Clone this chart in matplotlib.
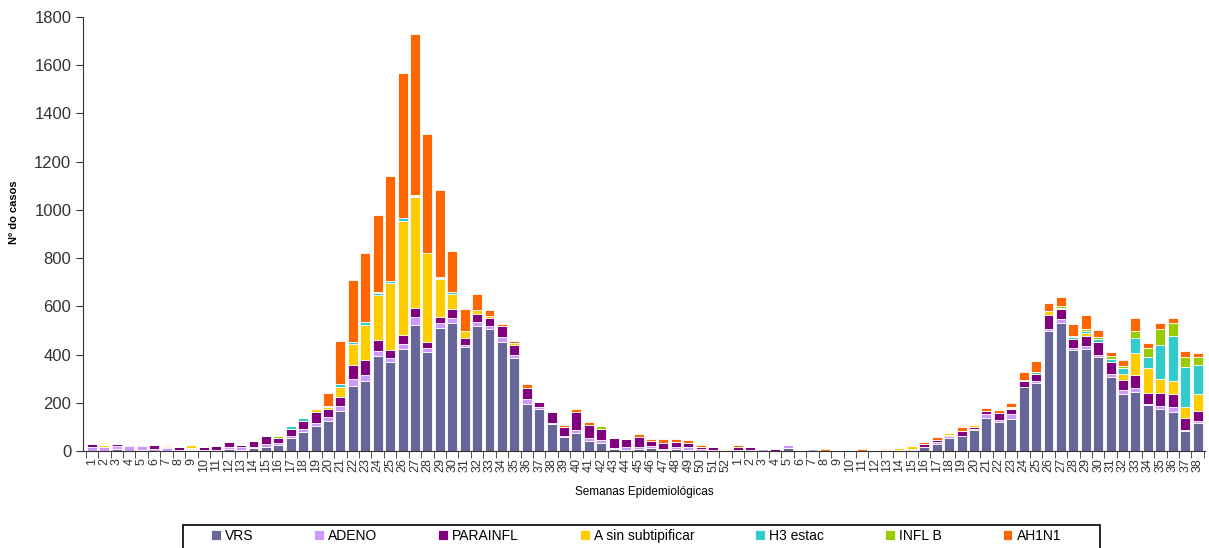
import matplotlib.pyplot as plt
import numpy as np
from matplotlib.patches import Rectangle

plt.rcParams['font.family'] = ['Liberation Sans', 'DejaVu Sans']

# semanas: 1-52 do primeiro ano e 1-38 do segundo
semanas = [str(i) for i in range(1, 53)] + [str(i) for i in range(1, 39)]

vrs = [0, 0, 7, 2, 4, 2, 0, 3, 3, 3, 4, 10, 6, 14, 18, 24, 53, 80, 104, 126,
       166, 270, 289, 394, 369, 423, 521, 412, 509, 532, 430, 518, 505, 453, 384, 195, 173, 111, 59, 73,
       43, 34, 8, 4, 8, 14, 4, 8, 4, 2, 2, 0,
       0, 0, 0, 0, 14, 0, 0, 0, 0, 0, 0, 0, 0, 3, 4, 18, 29, 53, 62, 87,
       136, 122, 133, 264, 281, 499, 532, 419, 424, 388, 306, 236, 246, 190, 173, 163, 84, 115]
adeno = [15, 15, 12, 20, 16, 6, 13, 0, 4, 3, 0, 8, 10, 4, 11, 8, 10, 12, 14, 17,
         19, 28, 25, 22, 18, 22, 35, 14, 21, 18, 8, 18, 14, 18, 14, 22, 8, 4, 4, 14,
         10, 10, 4, 14, 10, 7, 6, 10, 14, 6, 4, 0,
         5, 5, 8, 0, 11, 0, 8, 0, 0, 4, 0, 0, 4, 0, 0, 0, 10, 10, 0, 4,
         17, 7, 19, 3, 10, 8, 15, 10, 10, 10, 12, 19, 14, 4, 14, 18, 4, 8]
parainfl = [14, 0, 10, 3, 5, 15, 4, 12, 6, 9, 15, 21, 7, 22, 34, 20, 30, 33, 44, 30,
            39, 57, 63, 46, 30, 37, 37, 28, 25, 41, 29, 32, 32, 47, 41, 43, 23, 46, 35, 76,
            55, 48, 44, 30, 41, 22, 25, 19, 15, 8, 9, 5,
            10, 10, 0, 9, 0, 0, 0, 0, 4, 0, 0, 4, 0, 0, 6, 11, 7, 4, 21, 8,
            14, 28, 21, 25, 30, 55, 43, 35, 43, 55, 51, 40, 54, 46, 55, 55, 50, 43]
a_sin = [0, 8, 0, 0, 0, 0, 4, 0, 10, 0, 0, 0, 0, 0, 0, 0, 0, 0, 11, 8,
         41, 88, 144, 187, 281, 471, 460, 369, 158, 62, 30, 17, 7, 0, 7, 0, 0, 0, 0, 0,
         0, 0, 0, 0, 0, 0, 0, 0, 0, 0, 0, 0,
         0, 0, 0, 0, 0, 0, 0, 0, 0, 0, 0, 0, 0, 11, 9, 0, 0, 9, 0, 7,
         0, 0, 4, 4, 0, 18, 0, 0, 11, 0, 0, 23, 91, 106, 55, 55, 44, 71]
h3 = [0, 0, 0, 0, 0, 0, 0, 0, 0, 0, 0, 0, 0, 0, 0, 0, 10, 10, 0, 4,
      14, 8, 14, 5, 5, 14, 4, 0, 4, 7, 0, 0, 0, 0, 0, 0, 0, 0, 0, 0,
      0, 0, 0, 0, 0, 0, 0, 0, 0, 0, 0, 0,
      0, 0, 0, 0, 0, 0, 0, 0, 0, 0, 0, 0, 0, 0, 0, 0, 0, 0, 0, 0,
      0, 0, 0, 0, 8, 0, 4, 8, 11, 10, 11, 26, 64, 44, 142, 188, 167, 119]
infl_b = [0, 0, 0, 0, 0, 0, 0, 0, 0, 0, 0, 0, 0, 0, 0, 10, 0, 0, 0, 0,
          0, 0, 0, 5, 0, 0, 3, 0, 3, 0, 0, 0, 0, 0, 0, 0, 0, 0, 0, 0,
          0, 11, 0, 0, 0, 0, 0, 0, 0, 0, 0, 0,
          0, 0, 0, 0, 0, 0, 0, 0, 0, 0, 0, 0, 0, 0, 0, 0, 0, 0, 0, 0,
          0, 0, 4, 0, 0, 0, 8, 6, 8, 8, 14, 8, 29, 39, 68, 52, 39, 34]
ah1n1 = [0, 0, 0, 0, 0, 0, 2, 0, 0, 0, 0, 0, 0, 0, 0, 0, 0, 0, 0, 54,
         177, 257, 288, 319, 436, 602, 671, 491, 363, 169, 94, 66, 25, 8, 11, 17, 0, 0, 10, 10,
         11, 0, 0, 0, 10, 7, 14, 11, 11, 9, 0, 4,
         10, 0, 0, 0, 0, 0, 0, 8, 0, 0, 8, 0, 4, 0, 0, 10, 12, 0, 15, 6,
         10, 13, 19, 30, 45, 32, 35, 50, 57, 32, 17, 27, 55, 21, 22, 21, 26, 15]

series = [("VRS", vrs, "#666699"),
          ("ADENO", adeno, "#CC99FF"),
          ("PARAINFL", parainfl, "#800080"),
          ("A sin subtipificar", a_sin, "#FFCC00"),
          ("H3 estac", h3, "#33CCCC"),
          ("INFL B", infl_b, "#99CC00"),
          ("AH1N1", ah1n1, "#FF6600")]

x = np.arange(len(semanas))

fig = plt.figure(figsize=(12.09, 5.48), dpi=100)
ax = fig.add_axes([0.0687, 0.177, 0.928, 0.792])

# barras empilhadas
base = np.zeros(len(semanas))
for nome, vals, cor in series:
    vals = np.array(vals, dtype=float)
    ax.bar(x, vals, width=0.8, bottom=base, color=cor, edgecolor="white",
           linewidth=0.6, label=nome)
    base += vals

ax.set_xlim(-0.72, 89.6)
ax.set_ylim(0, 1800)
ax.set_yticks(np.arange(0, 1801, 200))
ax.tick_params(axis="y", labelsize=12, length=5, direction="out", colors="#333333")

# rótulos nas barras, marcas entre as barras
ax.set_xticks(x)
ax.set_xticklabels(semanas, rotation=90, fontsize=9)
ax.set_xticks(np.arange(-0.5, len(semanas), 1), minor=True)
ax.tick_params(axis="x", which="major", length=0, pad=5, colors="#333333")
ax.tick_params(axis="x", which="minor", length=5, color="#333333")

for s in ["top", "right"]:
    ax.spines[s].set_visible(False)
ax.spines["left"].set_color("#333333")
ax.spines["bottom"].set_color("#333333")

ax.set_ylabel("Nº do casos", fontsize=8, fontweight="bold")
ax.yaxis.set_label_coords(-0.057, 0.55)
ax.set_xlabel("Semanas Epidemiológicas", fontsize=8.5, labelpad=10)

# legenda embaixo, com moldura desenhada à parte
leg = fig.legend(loc="center", bbox_to_anchor=(211 / 1209, 0.0219, 850 / 1209, 0),
                 ncol=7, mode="expand", fontsize=10, frameon=False,
                 handlelength=0.7, handleheight=0.7, handletextpad=0.3,
                 borderaxespad=0, borderpad=0)
fig.patches.append(Rectangle((183 / 1209, -0.1), 917 / 1209, 0.1 + 23 / 548,
                             transform=fig.transFigure, fill=False,
                             edgecolor="black", linewidth=1.2))

fig.savefig("out.png", dpi=100)
